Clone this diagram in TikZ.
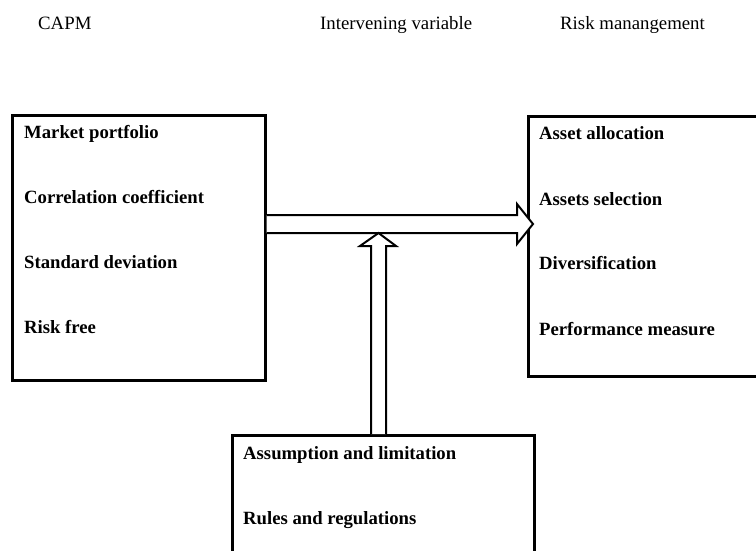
\documentclass[tikz,border=0pt]{standalone}
\usepackage{fontspec}
\setmainfont{Liberation Serif}
\begin{document}
\begin{tikzpicture}[x=1pt,y=-1pt,
  box/.style={draw,line width=2.6pt,rectangle,inner sep=0pt},
  head/.style={font=\fontsize{18.8}{22}\selectfont,anchor=base west,inner sep=0pt},
  item/.style={font=\bfseries\fontsize{18.7}{22}\selectfont,anchor=base west,inner sep=0pt},
  hollow/.style={draw,line width=2pt,fill=white,line join=miter}]
\useasboundingbox (0,0) rectangle (756,550);
% boxes
\node[box,minimum width=253pt,minimum height=265pt,anchor=north west] (capm) at (11,114) {};
\node[box,minimum width=260pt,minimum height=260pt,anchor=north west] (risk) at (527,115) {};
\node[box,minimum width=302pt,minimum height=140pt,anchor=north west] (inter) at (231,434) {};
% headings
\node[head] (h1) at (38,29) {CAPM};
\node[head] (h2) at (320,29) {Intervening variable};
\node[head] (h3) at (560,29) {Risk manangement};
% left items
\node[item] (l1) at (24,138) {Market portfolio};
\node[item] (l2) at (24,203) {Correlation coefficient};
\node[item] (l3) at (24,268) {Standard deviation};
\node[item] (l4) at (24,333) {Risk free};
% right items
\node[item] (r1) at (539,139) {Asset allocation};
\node[item] (r2) at (539,205) {Assets selection};
\node[item] (r3) at (539,269) {Diversification};
\node[item] (r4) at (539,335) {Performance measure};
% bottom items
\node[item] (b1) at (243,459) {Assumption and limitation};
\node[item] (b2) at (243,524) {Rules and regulations};
% horizontal hollow arrow
\coordinate (hs) at (capm.east |- 0,224);
\coordinate (ht) at (533,224);
\draw[hollow] ([yshift=9pt]hs) -- (517,215) -- (517,204) -- (ht) -- (517,244) -- (517,233) -- ([yshift=-9pt]hs);
% vertical hollow arrow
\coordinate (vs) at (inter.north -| 378.5,0);
\coordinate (vt) at (378.5,233);
\draw[hollow] ([xshift=-7.5pt]vs) -- (371,246) -- (360,246) -- (vt) -- (396,246) -- (386,246) -- ([xshift=7.5pt]vs);
\end{tikzpicture}
\end{document}
